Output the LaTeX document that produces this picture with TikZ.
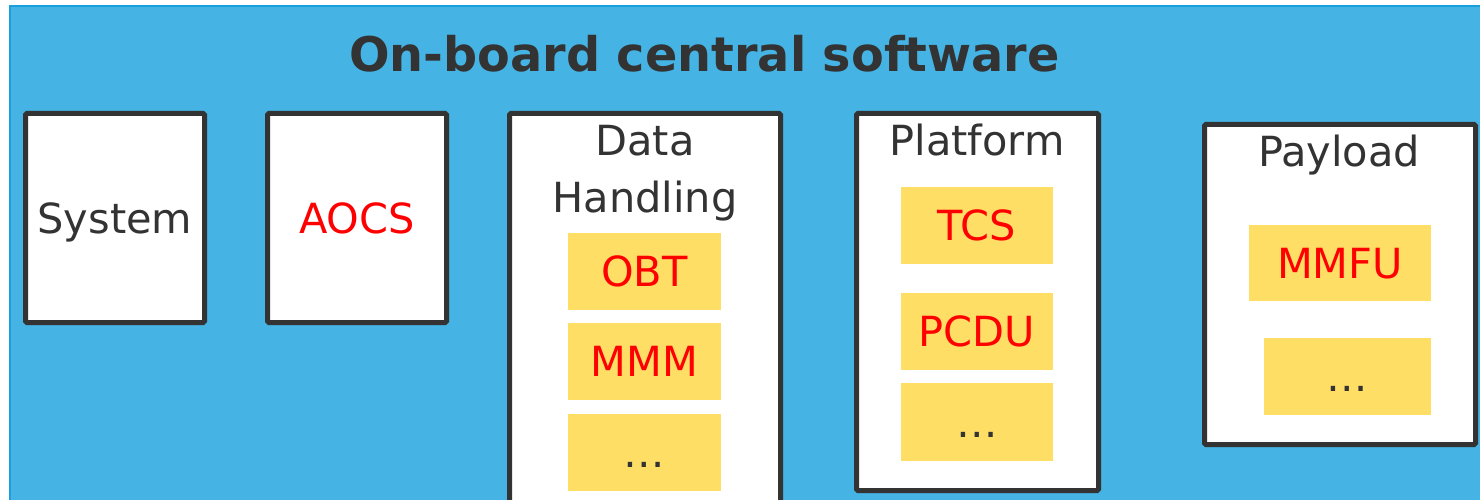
\documentclass[tikz,border=0pt]{standalone}
\usepackage{fontspec}
\setmainfont{DejaVu Sans}
\definecolor{bgblue}{HTML}{45B3E3}
\definecolor{edgeblue}{HTML}{1AA0DC}
\definecolor{dk}{HTML}{333333}
\definecolor{yel}{HTML}{FFDE66}
\newcommand\labfont{\fontsize{41.5}{50}\selectfont}
\newcommand\ttlfont{\fontsize{47.7}{56}\selectfont\bfseries}
\tikzset{
  panel/.style={draw=dk, line width=5pt, fill=white, rounded corners=1.5pt, inner sep=0pt, outer sep=0pt},
  lbl/.style={text=dk, font=\labfont, inner sep=0pt},
  capbox/.style={text height=30pt, text depth=0pt, font=\labfont},
  item/.style={fill=yel, inner sep=0pt, outer sep=0pt, minimum width=153pt, minimum height=77pt, capbox, text=red},
  dots/.style={text=dk},
  ttl/.style={text=dk, font=\ttlfont, inner sep=0pt}
}
\begin{document}
\begin{tikzpicture}[x=1pt,y=-1pt]
\useasboundingbox (0,0) rectangle (1480,500);
\fill[white] (0,0) rectangle (1480,500);
\fill[bgblue] (9,5) rectangle (1490,510);
\draw[edgeblue, line width=2pt] (10,520) -- (10,6) -- (1490,6);

\node[ttl, anchor=base] (title) at (704.5,72) {On-board central software};

\node[panel, capbox, text=dk, minimum width=179pt, minimum height=209pt] (sys) at (115,218) {System};
\node[panel, capbox, text=red, minimum width=179pt, minimum height=209pt] (aocs) at (357,218) {AOCS};

\node[panel, anchor=north, minimum width=271pt, minimum height=420pt] (dh) at (645,113.5) {};
\node[panel, anchor=north, minimum width=242pt, minimum height=377pt] (plat) at (977.5,113.5) {};
\node[panel, anchor=north, minimum width=271pt, minimum height=320pt] (pay) at (1340,124.5) {};

\node[lbl, anchor=base] (dhA) at (645,155) {Data};
\node[lbl, anchor=base] (dhB) at (645,212) {Handling};
\node[lbl, anchor=base] (platL) at (977,155) {Platform};
\node[lbl, anchor=base] (payL) at (1339,167) {Payload};

\node[item] (obt) at (644.5,271) {OBT};
\node[item] (mmm) at (644.5,361.5) {MMM};
\node[item, dots] (dhx) at (644.5,452) {…};

\node[item, minimum width=152pt] (tcs) at (977,225.5) {TCS};
\node[item, minimum width=152pt] (pcdu) at (977,331.5) {PCDU};
\node[item, minimum width=152pt, minimum height=78pt, dots] (platx) at (977,422) {…};

\node[item, minimum width=182pt, minimum height=76pt] (mmfu) at (1340,263) {MMFU};
\node[item, minimum width=167pt, dots] (payx) at (1347.5,376.5) {…};
\end{tikzpicture}
\end{document}
